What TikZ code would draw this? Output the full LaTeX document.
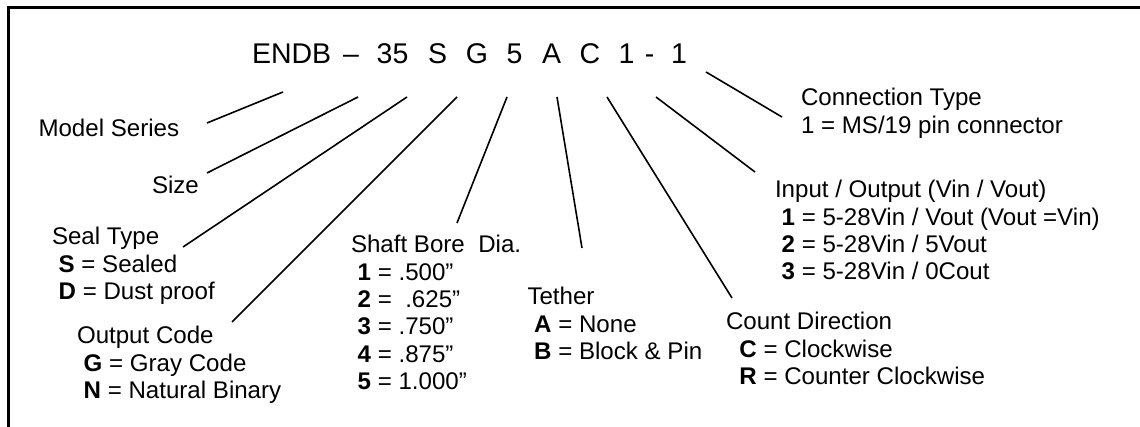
\documentclass[tikz,border=0pt]{standalone}
\usepackage{fontspec}
\setmainfont{Liberation Sans}
\newcommand\lblfont{\fontsize{24.1}{27.3}\selectfont}
\newcommand\ttlfont{\fontsize{28.5}{32}\selectfont}
\newcommand\ind{\hspace*{0.278em}}
\tikzset{
  lbl/.style={anchor=base west, inner sep=0pt, outer sep=0pt, font=\lblfont},
  ttl/.style={anchor=base, inner sep=0pt, outer sep=0pt, font=\ttlfont},
  conn/.style={line width=1.6pt},
  frameline/.style={line width=2.6pt, line join=miter}
}
\begin{document}
\begin{tikzpicture}[x=1pt,y=-1pt]
\useasboundingbox (0,0) rectangle (1140,427);
% frame
\draw[frameline] (8.5,430) -- (8.5,7.5) -- (1145,7.5);
% title characters
\node[ttl, anchor=base west] (tendb) at (252,64) {ENDB};
\node[ttl] (tdash) at (351,64) {–};
\node[ttl] (tsize) at (392.5,64) {35};
\node[ttl] (ts) at (437.5,64) {S};
\node[ttl] (tg) at (477,64) {G};
\node[ttl] (tfive) at (514.5,64) {5};
\node[ttl] (ta) at (551.5,64) {A};
\node[ttl] (tc) at (590,64) {C};
\node[ttl] (tone) at (626.5,64) {1};
\node[ttl] (thy) at (649.5,64) {-};
\node[ttl] (ttwo) at (679,64) {1};
% labels
\node[lbl] (model) at (38.5,137) {Model Series};
\node[lbl] (size) at (152,194) {Size};
\node[lbl] (seal) at (52,245) {\begin{tabular}[t]{@{}l@{}}Seal Type\\\ind\textbf{S} = Sealed\\\ind\textbf{D} = Dust proof\end{tabular}};
\node[lbl] (output) at (77,344) {\begin{tabular}[t]{@{}l@{}}Output Code\\\ind\textbf{G} = Gray Code\\\ind\textbf{N} = Natural Binary\end{tabular}};
\node[lbl] (shaft) at (351,253) {\begin{tabular}[t]{@{}l@{}}Shaft Bore \ Dia.\\\ind\textbf{1} = .500”\\\ind\textbf{2} = \ .625”\\\ind\textbf{3} = .750”\\\ind\textbf{4} = .875”\\\ind\textbf{5} = 1.000”\end{tabular}};
\node[lbl] (tether) at (527.5,305) {\begin{tabular}[t]{@{}l@{}}Tether\\\ind\textbf{A} = None\\\ind\textbf{B} = Block \& Pin\end{tabular}};
\node[lbl] (count) at (726,330) {\begin{tabular}[t]{@{}l@{}}Count Direction\\\ind\ind\textbf{C} = Clockwise\\\ind\ind\textbf{R} = Counter Clockwise\end{tabular}};
\node[lbl] (io) at (775,198) {\begin{tabular}[t]{@{}l@{}}Input / Output (Vin / Vout)\\\ind\textbf{1} = 5-28Vin / Vout (Vout =Vin)\\\ind\textbf{2} = 5-28Vin / 5Vout\\\ind\textbf{3} = 5-28Vin / 0Cout\end{tabular}};
\node[lbl] (conntype) at (801,106) {\begin{tabular}[t]{@{}l@{}}Connection Type\\1 = MS/19 pin connector\end{tabular}};
% connector end points
\coordinate (c1a) at (207,123); \coordinate (c1b) at (283,92);
\coordinate (c2a) at (207,173); \coordinate (c2b) at (358,97);
\coordinate (c3a) at (183,247); \coordinate (c3b) at (407,97);
\coordinate (c4a) at (232,322); \coordinate (c4b) at (457,97);
\coordinate (c5a) at (457,223); \coordinate (c5b) at (507,97);
\coordinate (c6a) at (582,248); \coordinate (c6b) at (557,97);
\coordinate (c7a) at (732,298); \coordinate (c7b) at (607,97);
\coordinate (c8a) at (755,172); \coordinate (c8b) at (656,97);
\coordinate (c9a) at (782,117); \coordinate (c9b) at (706,72);
\foreach \i in {1,...,9} {\draw[conn] (c\i a) -- (c\i b);}
\end{tikzpicture}
\end{document}
